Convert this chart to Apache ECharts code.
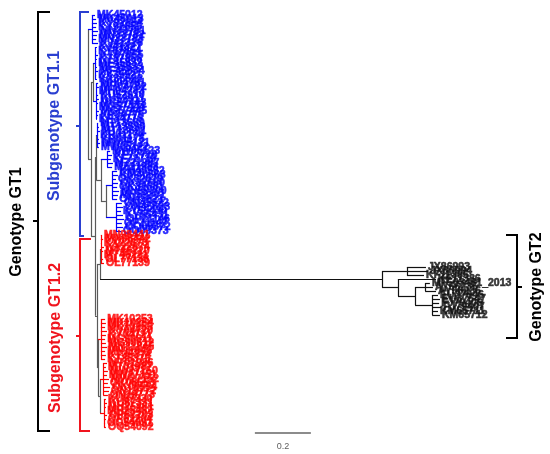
<!DOCTYPE html>
<html>
<head>
<meta charset="utf-8">
<script src="https://cdn.jsdelivr.net/npm/echarts@6/dist/echarts.min.js"></script>
<style>
html,body{margin:0;padding:0;background:#fff}
#tree{width:550px;height:454px}
</style>
</head>
<body>
<div id="tree"></div>
<script>
// tip labels, top to bottom, per clade
var gt11Labels = ['MK45012','MK45013','KY92654','KY92655','MN33781','MN33782','MN33783','KJ41326',
	'KJ41327','KT87854','KT87855','KT87856','MF45832','MF45833','MF45834','KX35521','KX35522',
	'MH04781','MH04782','MH04783','KU52910','KU52911','MG57443','MG57444','MG57445','KP34775','KP34776',
	'MT13689','MT13690','MT13691','KR01174','KR01175','MW05121','MW05122',
	'MW05123','KF72718','KF72719','MZ21987','MZ21988',
	'KM40562','KM40563','OK32679','OK32680','OK32681','MH59300','MH59301','ON45621',
	'ON45622','ON45623','KY55430','KY55431','OP21146','OP21147','OQ09372','OQ09373'];
var gt12aLabels = ['MN98441','MN98442','KX22873','KX22874','MT46220','MT46221','OL77138','OL77139'];
var gt2Labels = ['JX86993','JX86994','KF11385','KF11386','MF503481_2013','AY56235','AY56236',
	'EU37546','EU37547','FJ79406','FJ79407','KM65711','KM65712'];
var gt12bLabels = ['MK10253','MK10254','MK10255','KY04720','KY04721','MG90611','MG90612','MN11845',
	'MN11846','KT35374','KT35375','MT01986','MT01987','MW27150','MW27151','MW27152','OK08553',
	'OK08554','ON19772','ON19773','KU87330','KU87331','MH25461','MH25462','OP62203','OP62204',
	'OQ54091','OQ54092'];

// distance of each tip from the root (substitutions/site)
var gt11Depth = [0.025,0.029,0.032,0.029,0.036,0.032,0.029,0.036,
	0.032,0.029,0.036,0.032,0.029,0.032,0.036,0.029,0.032,
	0.036,0.039,0.032,0.036,0.039,0.036,0.032,0.039,0.036,0.032,
	0.036,0.039,0.043,0.036,0.039,0.043,0.039,
	0.079,0.086,0.082,0.089,0.086,
	0.104,0.107,0.100,0.107,0.104,0.111,0.107,0.104,
	0.121,0.125,0.118,0.125,0.129,0.121,0.125,0.118];
var gt12aDepth = [0.050,0.054,0.050,0.057,0.054,0.050,0.054,0.057];
var gt2Depth = [1.207,1.214,1.200,1.243,1.221,1.232,1.243,1.250,1.257,1.254,1.261,1.250,1.257];
var gt12bDepth = [0.061,0.064,0.061,0.068,0.064,0.061,0.064,0.068,0.061,0.064,0.061,
	0.068,0.064,0.071,0.068,0.075,0.071,0.079,0.075,0.071,
	0.064,0.068,0.064,0.061,0.068,0.064,0.061,0.064];

// internal nodes: first tip, last tip, distance from root
var nodeFrom  = [0,    0,     8,     8,     8,     17,    27,    27,    27,    34,    34,    39,    39,    47,
	55,    55,    55,    63,    63,    66,    67,    67,    70,    76,    76,    87,    87,    96];
var nodeTo    = [103,  7,     103,   26,    16,    26,    103,   54,    33,    54,    38,    54,    46,    54,
	103,   75,    62,    75,    65,    75,    75,    69,    75,    103,   86,    103,   95,    103];
var nodeDepth = [0,    0.014, 0.011, 0.018, 0.025, 0.029, 0.025, 0.029, 0.032, 0.046, 0.068, 0.064, 0.086, 0.100,
	0.032, 0.043, 0.046, 1.050, 1.139, 1.107, 1.168, 1.204, 1.229, 0.036, 0.046, 0.043, 0.054, 0.057];

var scaleBarLength = 0.2;
var scaleBarLabel = '0.2';

var chart = echarts.init(document.getElementById('tree'));

var groups = [
	{name:'GT1.1', labels:gt11Labels, depth:gt11Depth, color:'#0000ff'},
	{name:'GT1.2', labels:gt12aLabels, depth:gt12aDepth, color:'#ff0000'},
	{name:'GT2', labels:gt2Labels, depth:gt2Depth, color:'#111111'},
	{name:'GT1.2', labels:gt12bLabels, depth:gt12bDepth, color:'#ff0000'}
];

var tips = [];
groups.forEach(function(g, gi){
	g.labels.forEach(function(l, i){
		tips.push({label:l, depth:g.depth[i], group:g.name, gi:gi, color:g.color});
	});
});

function size(n){ return n.to - n.from; }

var nodes = nodeFrom.map(function(f, i){
	return {from:f, to:nodeTo[i], depth:nodeDepth[i], kids:[]};
});
// parent = smallest node that contains this one
nodes.forEach(function(n){
	var best = null;
	nodes.forEach(function(m){
		if(m !== n && m.from <= n.from && m.to >= n.to && size(m) > size(n) && (!best || size(m) < size(best))) best = m;
	});
	n.parent = best;
	if(best) best.kids.push(n);
});
tips.forEach(function(t, i){
	t.from = i; t.to = i; t.y = i;
	var best = null;
	nodes.forEach(function(m){
		if(m.from <= i && m.to >= i && (!best || size(m) < size(best))) best = m;
	});
	t.parent = best;
	best.kids.push(t);
});

function place(n){
	if(n.y !== undefined) return n.y;
	n.kids.sort(function(a, b){ return a.from - b.from; });
	n.kids.forEach(place);
	n.y = (n.kids[0].y + n.kids[n.kids.length - 1].y) / 2;
	return n.y;
}
nodes.forEach(function(n){ if(!n.parent) place(n); });

function nodeColor(n){
	var g = tips[n.from].group, same = true;
	for(var i = n.from; i <= n.to; i++){ if(tips[i].group !== g) same = false; }
	return (same && size(n) <= 12) ? tips[n.from].color : '#5a5a5a';
}

//branches
var segs = [];
nodes.forEach(function(n){
	var c = nodeColor(n);
	if(n.parent) segs.push({coords:[[n.parent.depth, n.y], [n.depth, n.y]], lineStyle:{color:c}});
	segs.push({coords:[[n.depth, n.kids[0].y], [n.depth, n.kids[n.kids.length - 1].y]], lineStyle:{color:c}});
});
tips.forEach(function(t){
	segs.push({coords:[[t.parent.depth, t.y], [t.depth, t.y]], lineStyle:{color:t.color}});
});

var series = [{
	type:'lines',
	coordinateSystem:'cartesian2d',
	polyline:false,
	silent:true,
	lineStyle:{width:1.2, opacity:1},
	data:segs
}];

//tip labels
groups.forEach(function(g, gi){
	series.push({
		type:'scatter',
		silent:true,
		symbolSize:0.1,
		itemStyle:{color:'rgba(0,0,0,0)'},
		label:{
			show:true,
			position:'right',
			distance:2,
			formatter:'{b}',
			fontSize:10.5,
			fontWeight:'bold',
			fontFamily:'Liberation Sans',
			color:g.color,
			textBorderColor:g.color,
			textBorderWidth:0.6
		},
		data:tips.filter(function(t){ return t.gi === gi; })
			.map(function(t){ return {name:t.label, value:[t.depth, t.y]}; })
	});
});

//scale bar
var barX = 0.596, barY = 104.5;
series.push({
	type:'lines',
	coordinateSystem:'cartesian2d',
	silent:true,
	lineStyle:{width:1.5, color:'#666', opacity:1},
	data:[{coords:[[barX, barY], [barX + scaleBarLength, barY]]}]
});
series.push({
	type:'scatter',
	silent:true,
	symbolSize:0.1,
	itemStyle:{color:'rgba(0,0,0,0)'},
	label:{show:true, position:'inside', formatter:scaleBarLabel, fontSize:9, color:'#333', fontFamily:'Liberation Sans'},
	data:[[barX + scaleBarLength / 2, 108]]
});

var BLUE = '#2a3fd0', RED = '#f0141e';
function bracket(points, color){
	return {type:'polyline', shape:{points:points}, style:{stroke:color, lineWidth:2, fill:null}, silent:true};
}
function vtext(txt, x, y, color){
	return {type:'text', x:x, y:y, rotation:Math.PI / 2, silent:true,
		style:{text:txt, fill:color, font:'bold 16px "Liberation Sans", Arial, sans-serif', textAlign:'center', textVerticalAlign:'middle'}};
}

var option = {
	animation:false,
	grid:{left:0, right:0, top:0, bottom:0},
	xAxis:{type:'value', min:-0.3143, max:1.65, show:false},
	yAxis:{type:'value', min:-3.75, max:109.75, inverse:true, show:false},
	graphic:[
		bracket([[50,12],[38,12],[38,431],[50,431]], '#000'),
		bracket([[38,221],[33,221]], '#000'),
		vtext('Genotype GT1', 17, 222, '#000'),
		bracket([[89,12],[80,12],[80,236],[84,236]], BLUE),
		bracket([[80,126],[76,126]], BLUE),
		vtext('Subgenotype GT1.1', 55, 126, BLUE),
		bracket([[91,239],[80,239],[80,431],[90,431]], RED),
		bracket([[80,336],[76,336]], RED),
		vtext('Subgenotype GT1.2', 56, 338, RED),
		bracket([[506,235],[517,235],[517,338],[506,338]], '#000'),
		bracket([[517,287],[522,287]], '#000'),
		vtext('Genotype GT2', 537, 287, '#000')
	],
	series:series
};
chart.setOption(option);
</script>
</body>
</html>
